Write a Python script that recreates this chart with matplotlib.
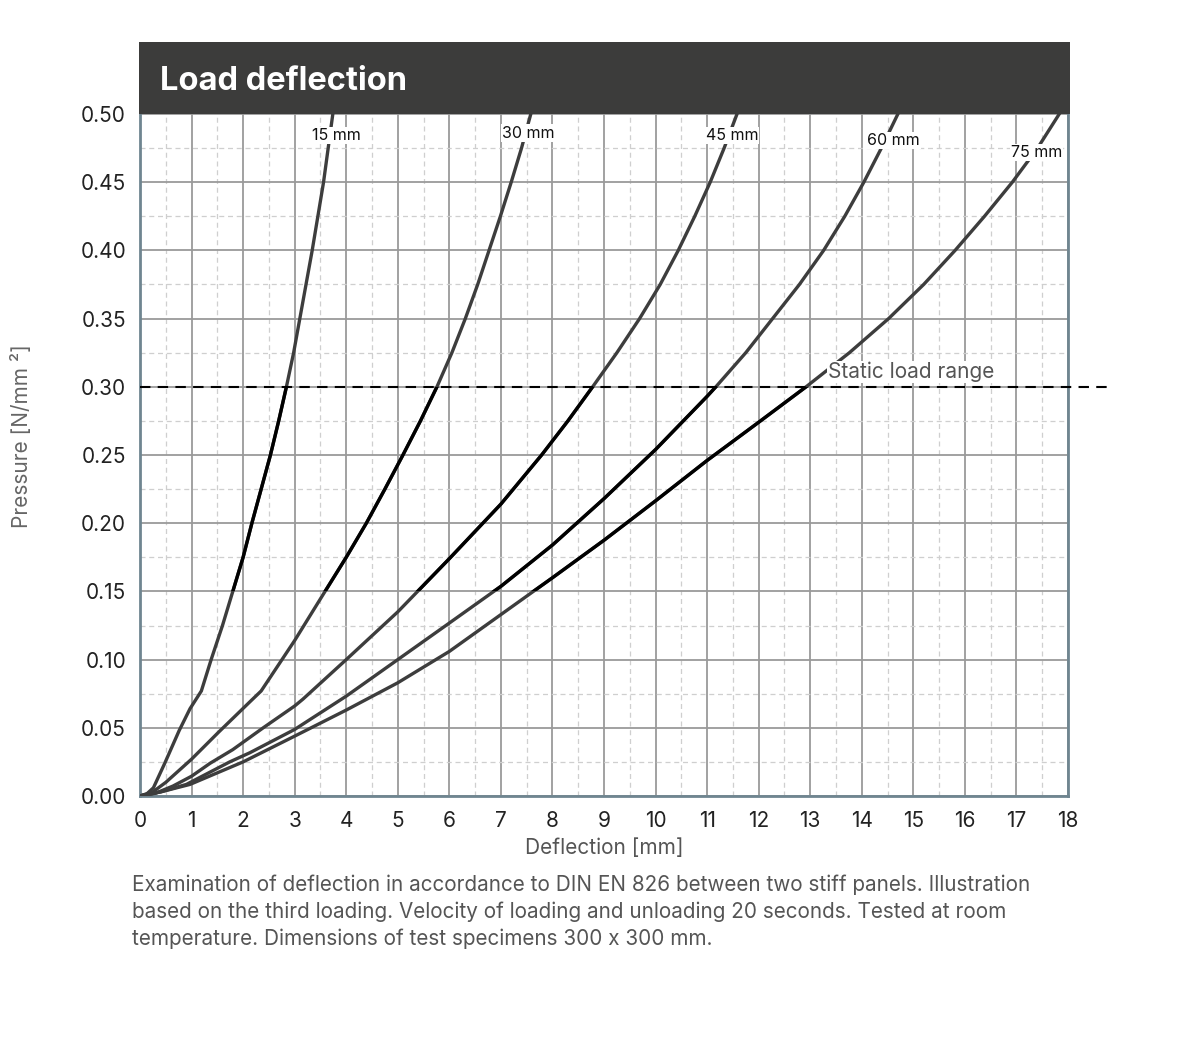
import numpy as np
import matplotlib
matplotlib.use("Agg")
import matplotlib.pyplot as plt
from matplotlib.patches import Rectangle
from matplotlib.ticker import MultipleLocator

plt.rcParams['font.family'] = ['Inter', 'DejaVu Sans']

# ---------------- data ----------------
x_ticks = list(range(0, 19))
y_ticks = [0.00, 0.05, 0.10, 0.15, 0.20, 0.25, 0.30, 0.35, 0.40, 0.45, 0.50]
y_tick_labels = ["0.00", "0.05", "0.10", "0.15", "0.20", "0.25", "0.30", "0.35", "0.40", "0.45", "0.50"]

series_names = ["15 mm", "30 mm", "45 mm", "60 mm", "75 mm"]

x_15 = [0, 0.13, 0.26, 0.48, 0.76, 0.97, 1.19, 1.38, 1.6, 1.8, 2.0, 2.17, 2.35, 2.53, 2.69, 2.84,
        2.98, 3.10, 3.22, 3.34, 3.45, 3.56, 3.65, 3.74]
y_15 = [0, 0.0015, 0.006, 0.024, 0.048, 0.064, 0.077, 0.100, 0.125, 0.150, 0.175, 0.200, 0.225, 0.25,
        0.275, 0.30, 0.325, 0.35, 0.375, 0.40, 0.425, 0.45, 0.475, 0.50]

x_30 = [0, 0.25, 0.5, 1.0, 1.53, 2.13, 2.35, 3.0, 3.54, 4.0, 4.39, 4.75, 5.1, 5.44, 5.76,
        6.05, 6.31, 6.55, 6.77, 6.99, 7.20, 7.40, 7.58]
y_30 = [0, 0.003, 0.010, 0.027, 0.047, 0.069, 0.077, 0.114, 0.147, 0.175, 0.20, 0.225, 0.25, 0.275, 0.30,
        0.325, 0.35, 0.375, 0.40, 0.425, 0.45, 0.475, 0.50]

x_45 = [0, 0.3, 0.64, 1.0, 1.36, 1.8, 2.39, 3.0, 3.16, 4.0, 5.0, 6.0, 7.0, 7.79, 8.30, 8.78,
        9.25, 9.69, 10.09, 10.44, 10.76, 11.06, 11.33, 11.58]
y_45 = [0, 0.002, 0.0073, 0.0145, 0.024, 0.034, 0.05, 0.066, 0.071, 0.10, 0.135, 0.174, 0.214, 0.25,
        0.275, 0.30, 0.325, 0.35, 0.375, 0.40, 0.425, 0.45, 0.475, 0.50]

x_60 = [0, 0.4, 0.9, 1.74, 2.13, 3.0, 4.0, 5.0, 6.0, 7.0, 8.0, 9.0, 10.0, 11.0, 11.17, 11.75,
        12.27, 12.79, 13.26, 13.67, 14.04, 14.38, 14.70]
y_60 = [0, 0.003, 0.0085, 0.025, 0.0317, 0.0488, 0.0732, 0.10, 0.1268, 0.1537, 0.184, 0.218, 0.254,
        0.293, 0.30, 0.325, 0.35, 0.375, 0.40, 0.425, 0.45, 0.475, 0.50]

x_75 = [0, 0.4, 0.97, 2.0, 3.0, 4.0, 5.0, 6.0, 7.0, 8.0, 9.0, 10.0, 11.0, 12.0, 12.92, 13.76,
        14.52, 15.20, 15.81, 16.38, 16.92, 17.41, 17.83]
y_75 = [0, 0.003, 0.0085, 0.025, 0.0439, 0.063, 0.083, 0.106, 0.133, 0.160, 0.1875, 0.2164, 0.246,
        0.274, 0.30, 0.325, 0.35, 0.375, 0.40, 0.425, 0.45, 0.475, 0.50]

static_load = 0.30

caption_lines = [
    "Examination of deflection in accordance to DIN EN 826 between two stiff panels. Illustration",
    "based on the third loading. Velocity of loading and unloading 20 seconds. Tested at room",
    "temperature. Dimensions of test specimens 300 x 300 mm.",
]

# label anchor positions (data coords)
label_pos = [(3.81, 0.484), (7.54, 0.486), (11.48, 0.484), (14.61, 0.4805), (17.39, 0.4715)]

series_x = [x_15, x_30, x_45, x_60, x_75]
series_y = [y_15, y_30, y_45, y_60, y_75]

# ---------------- figure ----------------
W, H = 1201, 1051
fig = plt.figure(figsize=(W / 100, H / 100), dpi=100)
fig.patch.set_facecolor("white")
ax = fig.add_axes([140 / W, (H - 796) / H, 928 / W, 682 / H])

ax.set_xlim(0, 18)
ax.set_ylim(0, 0.5)
ax.set_xticks(x_ticks)
ax.set_yticks(y_ticks)
ax.set_yticklabels(y_tick_labels)
ax.xaxis.set_minor_locator(MultipleLocator(0.5))
ax.yaxis.set_minor_locator(MultipleLocator(0.025))
ax.tick_params(which="both", length=0)
ax.tick_params(axis="y", labelsize=15, pad=10, colors="#222222")
ax.tick_params(axis="x", labelsize=15, pad=11, colors="#222222")

ax.grid(which="major", color="#9a9a9a", lw=1.3, ls="-", zorder=0)
ax.grid(which="minor", color="#cfcfcf", lw=0.9, ls=(0, (4, 3)), zorder=0)
ax.set_axisbelow(True)

for s in ["left", "bottom", "right"]:
    ax.spines[s].set_color("#6f8590")
    ax.spines[s].set_linewidth(2.0)
ax.spines["top"].set_visible(False)

clip = Rectangle((0, 0.15), 18, 0.15, transform=ax.transData, fill=False, visible=False)
ax.add_patch(clip)

for xs, ys in zip(series_x, series_y):
    ax.plot(xs, ys, color="#3d3d3d", lw=2.4, solid_joinstyle="round", zorder=3)
    (blk,) = ax.plot(xs, ys, color="#000000", lw=2.4, solid_joinstyle="round", zorder=3.5)
    blk.set_clip_path(clip)

for name, (lx, ly) in zip(series_names, label_pos):
    ax.text(lx, ly, name, fontsize=11.5, color="#111111", ha="center", va="center", zorder=5,
            bbox=dict(facecolor="white", edgecolor="none", pad=0.8))

ax.plot([0, 18.85], [static_load, static_load], color="#000000", lw=1.5,
        ls=(0, (5, 3.5)), clip_on=False, zorder=4)
ax.text(13.34, 0.311, "Static load range", fontsize=15, color="#555555", ha="left", va="center",
        zorder=6, bbox=dict(facecolor="white", edgecolor="none", pad=0.5))

ax.set_xlabel("Deflection [mm]", fontsize=15, color="#555555", labelpad=5)

# title bar
fig.patches.append(Rectangle((139 / W, (H - 114) / H), 931 / W, 72 / H, transform=fig.transFigure,
                             facecolor="#3c3c3b", edgecolor="none", zorder=10))
fig.text(160 / W, (H - 82) / H, "Load deflection", fontsize=23.5, fontweight="bold", color="white",
         ha="left", va="center", zorder=11)

fig.text(22 / W, (H - 436) / H, "Pressure [N/mm ²]", fontsize=15, color="#666666",
         rotation=90, ha="center", va="center")

for i, line in enumerate(caption_lines):
    fig.text(132 / W, (H - (891 + 27 * i)) / H, line, fontsize=14.9, color="#555555",
             ha="left", va="baseline")

fig.savefig("out.png", dpi=100, facecolor="white")
